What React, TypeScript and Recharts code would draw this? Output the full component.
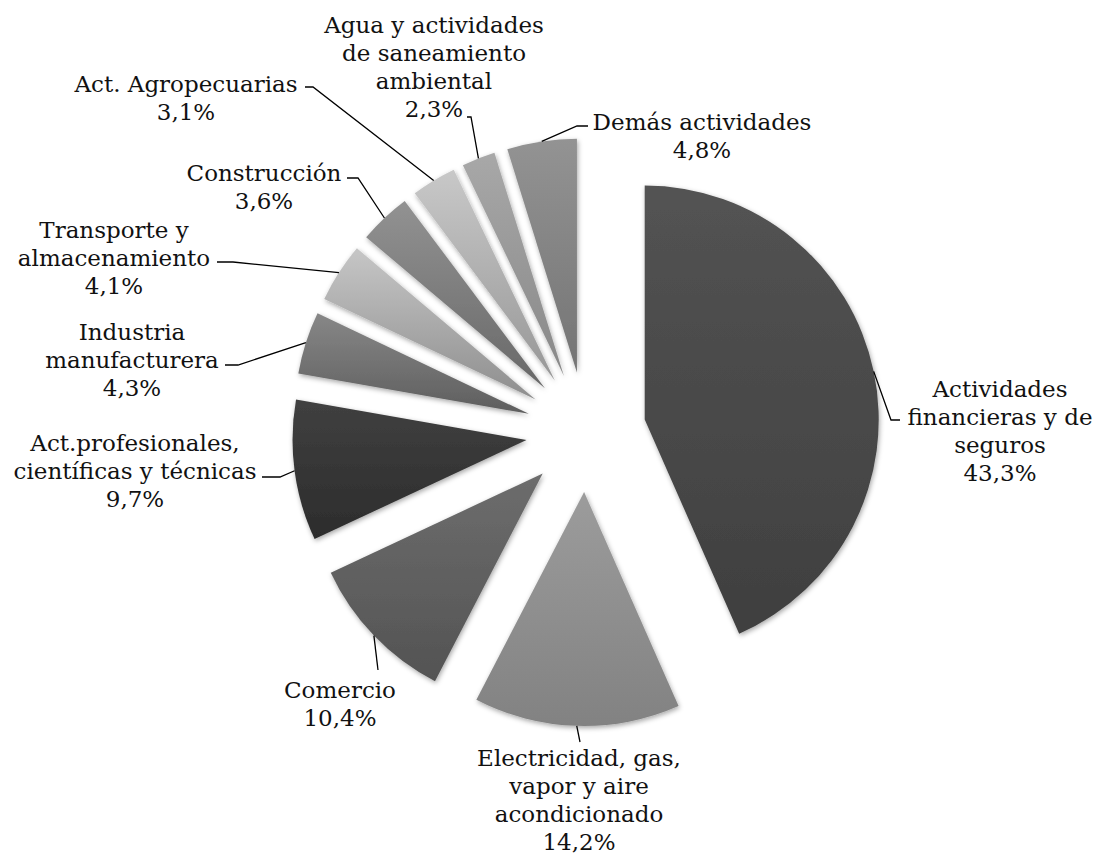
import { PieChart, Pie, Cell, Sector } from "recharts";

const sectores = [
  "Actividades financieras y de seguros",
  "Electricidad, gas, vapor y aire acondicionado",
  "Comercio",
  "Act.profesionales, científicas y técnicas",
  "Industria manufacturera",
  "Transporte y almacenamiento",
  "Construcción",
  "Act. Agropecuarias",
  "Agua y actividades de saneamiento ambiental",
  "Demás actividades",
];

const participacion = [43.3, 14.2, 10.4, 9.7, 4.3, 4.1, 3.6, 3.1, 2.3, 4.8];

// label text broken into lines as in the original
const lineasEtiqueta = [
  ["Actividades", "financieras y de", "seguros"],
  ["Electricidad, gas,", "vapor y aire", "acondicionado"],
  ["Comercio"],
  ["Act.profesionales,", "científicas y técnicas"],
  ["Industria", "manufacturera"],
  ["Transporte y", "almacenamiento"],
  ["Construcción"],
  ["Act. Agropecuarias"],
  ["Agua y actividades", "de saneamiento", "ambiental"],
  ["Demás actividades"],
];

const data = sectores.map((name, i) => ({ name, value: participacion[i] }));

// gradient top / bottom greys per slice
const grises = [
  ["#535353", "#3f3f3f"],
  ["#9c9c9c", "#828282"],
  ["#6d6d6d", "#535353"],
  ["#404040", "#2c2c2c"],
  ["#878787", "#5e5e5e"],
  ["#c6c6c6", "#8e8e8e"],
  ["#929292", "#686868"],
  ["#c8c8c8", "#979797"],
  ["#a8a8a8", "#888888"],
  ["#939393", "#747474"],
];

// label placement relative to pie centre: elbow, end of leader, text centre x, first line y
const posEtiqueta = [
  { ex: 305, ey: -12, endX: 314, tx: 414, ty: -43 },
  { ex: -6, ey: 310, endX: -6, tx: -7, ty: 326 },
  { ex: -208, ey: 238, endX: -208, tx: -246, ty: 258 },
  { ex: -306, ey: 45, endX: -324, tx: -451, ty: 11 },
  { ex: -348, ey: -67, endX: -361, tx: -454, ty: -100 },
  { ex: -353, ey: -170, endX: -369, tx: -472, ty: -202 },
  { ex: -228, ey: -254, endX: -239, tx: -322, ty: -259 },
  { ex: -273, ey: -345, endX: -281, tx: -400, ty: -348 },
  { ex: -115, ey: -315, endX: -119, tx: -152, ty: -407 },
  { ex: -9, ey: -306, endX: 2, tx: 116, ty: -310 },
];

const RADIAN = Math.PI / 180;
const EXPLOSION = 60;
const LINE_H = 28;
const FONT = "'DejaVu Serif', serif";

const fmt = (v: number) => v.toFixed(1).replace(".", ",") + "%";

const SectorSeparado = (props: any) => {
  const { cx, cy, midAngle } = props;
  const dx = EXPLOSION * Math.cos(-midAngle * RADIAN);
  const dy = EXPLOSION * Math.sin(-midAngle * RADIAN);
  return (
    <Sector
      {...props}
      cx={cx + dx}
      cy={cy + dy}
      stroke="none"
      filter="url(#sombra)"
    />
  );
};

const renderEtiqueta = (props: any) => {
  const { cx, cy, midAngle, outerRadius, index } = props;
  const r = outerRadius + EXPLOSION;
  const ax = cx + r * Math.cos(-midAngle * RADIAN);
  const ay = cy + r * Math.sin(-midAngle * RADIAN);
  const p = posEtiqueta[index];
  const lines = [...lineasEtiqueta[index], fmt(participacion[index])];
  return (
    <g>
      <polyline
        points={`${ax},${ay} ${cx + p.ex},${cy + p.ey} ${cx + p.endX},${cy + p.ey}`}
        fill="none"
        stroke="#000"
        strokeWidth={1.3}
      />
      <text
        x={cx + p.tx}
        y={cy + p.ty}
        textAnchor="middle"
        fontFamily={FONT}
        fontSize={23}
        fill="#111"
      >
        {lines.map((l, j) => (
          <tspan key={j} x={cx + p.tx} y={cy + p.ty + j * LINE_H} dominantBaseline="central">
            {l}
          </tspan>
        ))}
      </text>
    </g>
  );
};

export default function App() {
  return (
    <div style={{ position: "absolute", left: 0, top: 0, width: 1096, height: 854, background: "#fff" }}>
      <PieChart width={1096} height={854} margin={{ top: 0, right: 0, bottom: 0, left: 0 }}>
        <defs>
          {grises.map(([a, b], i) => (
            <linearGradient key={i} id={`gris${i}`} x1="0" y1="0" x2="0" y2="1">
              <stop offset="0%" stopColor={a} />
              <stop offset="100%" stopColor={b} />
            </linearGradient>
          ))}
          <filter id="sombra" x="-20%" y="-20%" width="140%" height="140%">
            <feDropShadow dx="1" dy="2" stdDeviation="2.5" floodColor="#000" floodOpacity="0.35" />
          </filter>
        </defs>
        <Pie
          data={data}
          dataKey="value"
          nameKey="name"
          cx={586}
          cy={432}
          outerRadius={234}
          startAngle={90}
          endAngle={-270}
          shape={SectorSeparado}
          label={renderEtiqueta}
          labelLine={false}
          isAnimationActive={false}
        >
          {data.map((_, i) => (
            <Cell key={i} fill={`url(#gris${i})`} />
          ))}
        </Pie>
      </PieChart>
    </div>
  );
}
